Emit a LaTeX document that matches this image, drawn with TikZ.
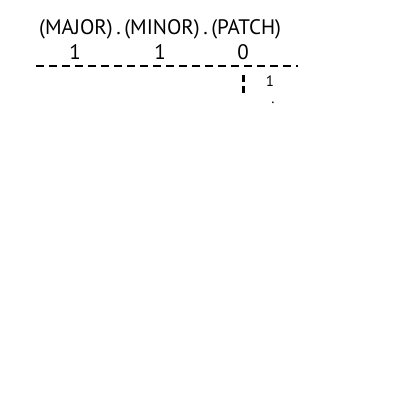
\documentclass[tikz,border=0pt]{standalone}
\usepackage{fontspec}
\setmainfont{PT Sans}
\begin{document}
\begin{tikzpicture}[x=1pt,y=-1pt,
  lbl/.style={inner sep=0pt,font=\fontsize{21}{24}\selectfont},
  small/.style={inner sep=0pt,font=\fontsize{15}{17}\selectfont},
  dash line/.style={line width=2pt,dash pattern=on 8pt off 5pt}]
\useasboundingbox[fill=white] (0,0) rectangle (400,400);
\node[lbl,anchor=west] (hdr) at (39,29) {(MAJOR)\,.\,(MINOR)\,.\,(PATCH)};
\node[lbl] (maj) at (75,52) {1};
\node[lbl] (min) at (160,52) {1};
\node[lbl] (pat) at (243,52) {0};
\coordinate (l1) at (36,66);
\coordinate (l2) at (298,66);
\draw[dash line] (l1) -- (l2);
\coordinate (v1) at (243,75);
\coordinate (v2) at (243,95);
\draw[line width=3pt,dash pattern=on 7pt off 4pt] (v1) -- (v2);
\node[small] (p1) at (270,81) {1};
\node[small] (dot) at (273,103) {.};
\end{tikzpicture}
\end{document}
